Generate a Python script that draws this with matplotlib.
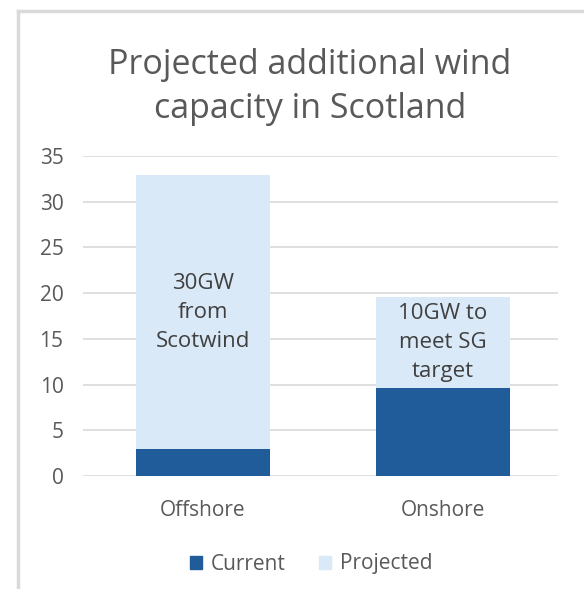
import matplotlib.pyplot as plt
from matplotlib.patches import Patch
import numpy as np

categories = ["Offshore", "Onshore"]
current = [2.9, 9.6]
projected = [30, 10]
notes = ["30GW\nfrom\nScotwind", "10GW to\nmeet SG\ntarget"]
yticks = [0, 5, 10, 15, 20, 25, 30, 35]

DARK = "#1f5c99"
LIGHT = "#dae9f7"
GREY = "#595959"

plt.rcParams["font.family"] = ["Open Sans", "DejaVu Sans"]

W, H = 584, 589
fig = plt.figure(figsize=(W / 100, H / 100), dpi=100)
ax = fig.add_axes([83 / W, (H - 476) / H, (558 - 83) / W, 320 / H])

x = np.arange(len(categories))
ax.bar(x, current, width=0.56, color=DARK, zorder=3)
ax.bar(x, projected, width=0.56, bottom=current, color=LIGHT, zorder=3)

for xi, c, p, t in zip(x, current, projected, notes):
    ax.text(xi, c + p / 2, t, ha="center", va="center", fontsize=16,
            color="#404040", linespacing=1.5, zorder=4)

ax.set_xlim(-0.5, 1.48)
ax.set_ylim(0, 35)
ax.set_yticks(yticks)
ax.set_xticks(x)
ax.set_xticklabels(categories)
ax.tick_params(axis="both", length=0, labelsize=15, colors=GREY)
ax.tick_params(axis="y", pad=14)
ax.tick_params(axis="x", pad=17)
ax.grid(axis="y", color="#d9d9d9", linewidth=1.2, zorder=0)
for s in ax.spines.values():
    s.set_visible(False)

fig.text(310 / W, 1 - 87 / H,
         "Projected additional wind\ncapacity in Scotland",
         ha="center", va="center", fontsize=24.5, color=GREY, linespacing=1.4)

handles = [Patch(color=DARK, label="Current"), Patch(color=LIGHT, label="Projected")]
fig.legend(handles=handles, loc="center", bbox_to_anchor=(311 / W, 1 - 564 / H),
           ncol=2, frameon=False, fontsize=15, labelcolor=GREY,
           handlelength=0.6, handleheight=0.6, handletextpad=0.4, columnspacing=1.6)

# chart frame edges on left and top
fig.add_artist(plt.Line2D([17.5 / W, 17.5 / W], [0, 1 - 11 / H], color="#d9d9d9",
                          linewidth=2.5, transform=fig.transFigure))
fig.add_artist(plt.Line2D([17.5 / W, 1], [1 - 11 / H, 1 - 11 / H], color="#d9d9d9",
                          linewidth=2.5, transform=fig.transFigure))

fig.savefig("out.png", dpi=100)
